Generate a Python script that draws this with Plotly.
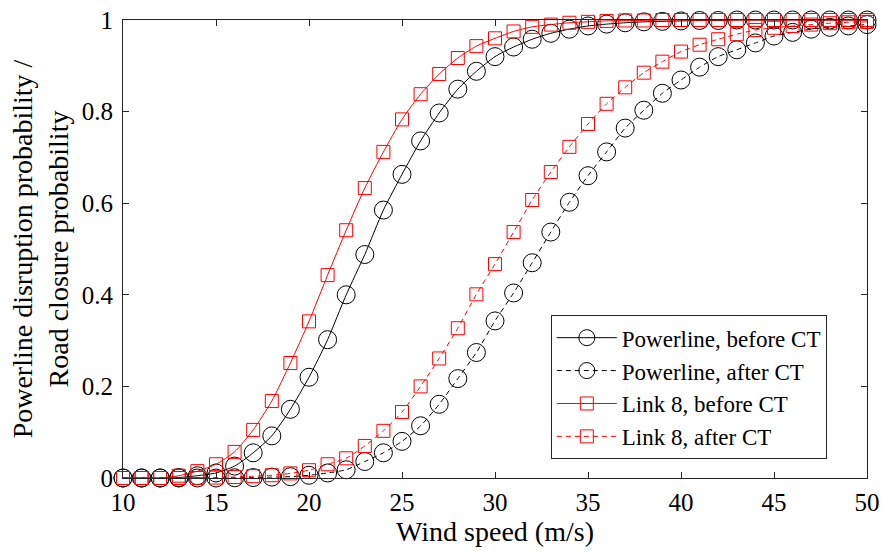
import plotly.graph_objects as go

# Wind speed grid (m/s)
wind_speed = list(range(10, 51))

# Powerline disruption probability, before CT
powerline_before = [0, 0, 0, 0.001, 0.005, 0.011, 0.026, 0.055, 0.092, 0.15,
                    0.22, 0.302, 0.40, 0.488, 0.585, 0.663, 0.736, 0.797, 0.849, 0.888,
                    0.92, 0.941, 0.958, 0.971, 0.98, 0.987, 0.991, 0.994, 0.996, 0.997,
                    0.998, 0.999, 0.999, 1, 1, 1, 1, 1, 1, 1, 1]

# Powerline disruption probability, after CT
powerline_after = [0, 0, 0, 0, 0, 0, 0.0005, 0.001, 0.002, 0.003,
                   0.006, 0.011, 0.018, 0.036, 0.055, 0.08, 0.114, 0.161, 0.217, 0.274,
                   0.343, 0.404, 0.47, 0.537, 0.602, 0.66, 0.712, 0.764, 0.803, 0.84,
                   0.869, 0.897, 0.92, 0.935, 0.95, 0.965, 0.973, 0.98, 0.984, 0.987, 0.99]

# Road closure probability of link 8, before CT
link8_before = [0, 0, 0, 0.005, 0.015, 0.03, 0.057, 0.105, 0.168, 0.251,
                0.342, 0.443, 0.541, 0.633, 0.712, 0.783, 0.838, 0.882, 0.917, 0.943,
                0.96, 0.975, 0.985, 0.99, 0.994, 0.996, 0.998, 0.999, 0.999, 1,
                1, 1, 1, 1, 1, 1, 1, 1, 1, 1, 1]

# Road closure probability of link 8, after CT
link8_after = [0, 0, 0, 0, 0, 0.001, 0.002, 0.004, 0.006, 0.01,
               0.017, 0.03, 0.043, 0.07, 0.103, 0.144, 0.2, 0.261, 0.327, 0.401,
               0.467, 0.537, 0.607, 0.668, 0.723, 0.773, 0.817, 0.853, 0.885, 0.909,
               0.931, 0.946, 0.958, 0.969, 0.978, 0.983, 0.987, 0.99, 0.993, 0.995, 0.996]

series_names = ["Powerline, before CT", "Powerline, after CT",
                "Link 8, before CT", "Link 8, after CT"]

y_tick_vals = [0, 0.2, 0.4, 0.6, 0.8, 1]
y_tick_text = ["0", "0.2", "0.4", "0.6", "0.8", "1"]
x_tick_vals = [10, 15, 20, 25, 30, 35, 40, 45, 50]

FONT = "Liberation Serif, Times New Roman, serif"
AXIS_COLOR = "#262626"
DASH = "5px,4px"

fig = go.Figure()

styles = [
    (powerline_before, "black", "solid", "circle-open", 18),
    (powerline_after, "black", DASH, "circle-open", 18),
    (link8_before, "#ff0000", "solid", "square-open", 13),
    (link8_after, "#ff0000", DASH, "square-open", 13),
]

for name, (vals, color, dash, symbol, size) in zip(series_names, styles):
    fig.add_trace(go.Scatter(
        x=wind_speed, y=vals, name=name, mode="lines+markers", cliponaxis=False,
        line=dict(color=color, width=1, dash=dash, shape="spline", smoothing=0.6),
        marker=dict(symbol=symbol, size=size, color=color, line=dict(width=1, color=color)),
    ))

axis_common = dict(
    showgrid=False, zeroline=False, showline=True, linecolor=AXIS_COLOR, linewidth=1,
    mirror="allticks", ticks="inside", ticklen=6, tickcolor=AXIS_COLOR, tickwidth=1,
    tickfont=dict(family=FONT, size=25, color="black"), automargin=False,
)

fig.update_xaxes(
    range=[10, 50], tickvals=x_tick_vals, ticklabelstandoff=2,
    title=dict(text="Wind speed (m/s)", font=dict(family=FONT, size=28, color="black"), standoff=2),
    **axis_common,
)
fig.update_yaxes(
    range=[0, 1], tickvals=y_tick_vals, ticktext=y_tick_text, ticklabelstandoff=4,
    title=dict(text="Powerline disruption probability /<br>Road closure probability",
               font=dict(family=FONT, size=28, color="black"), standoff=4),
    **axis_common,
)

fig.update_layout(
    template="none",
    width=883, height=557,
    margin=dict(l=123, r=16, t=20, b=79, autoexpand=False),
    paper_bgcolor="white", plot_bgcolor="white",
    font=dict(family=FONT, color="black"),
    legend=dict(
        x=0.946, y=0.041, xanchor="right", yanchor="bottom",
        bgcolor="white", bordercolor=AXIS_COLOR, borderwidth=1,
        font=dict(family=FONT, size=23, color="black"),
        itemwidth=60, tracegroupgap=0,
    ),
)

fig.write_html("out.html")
